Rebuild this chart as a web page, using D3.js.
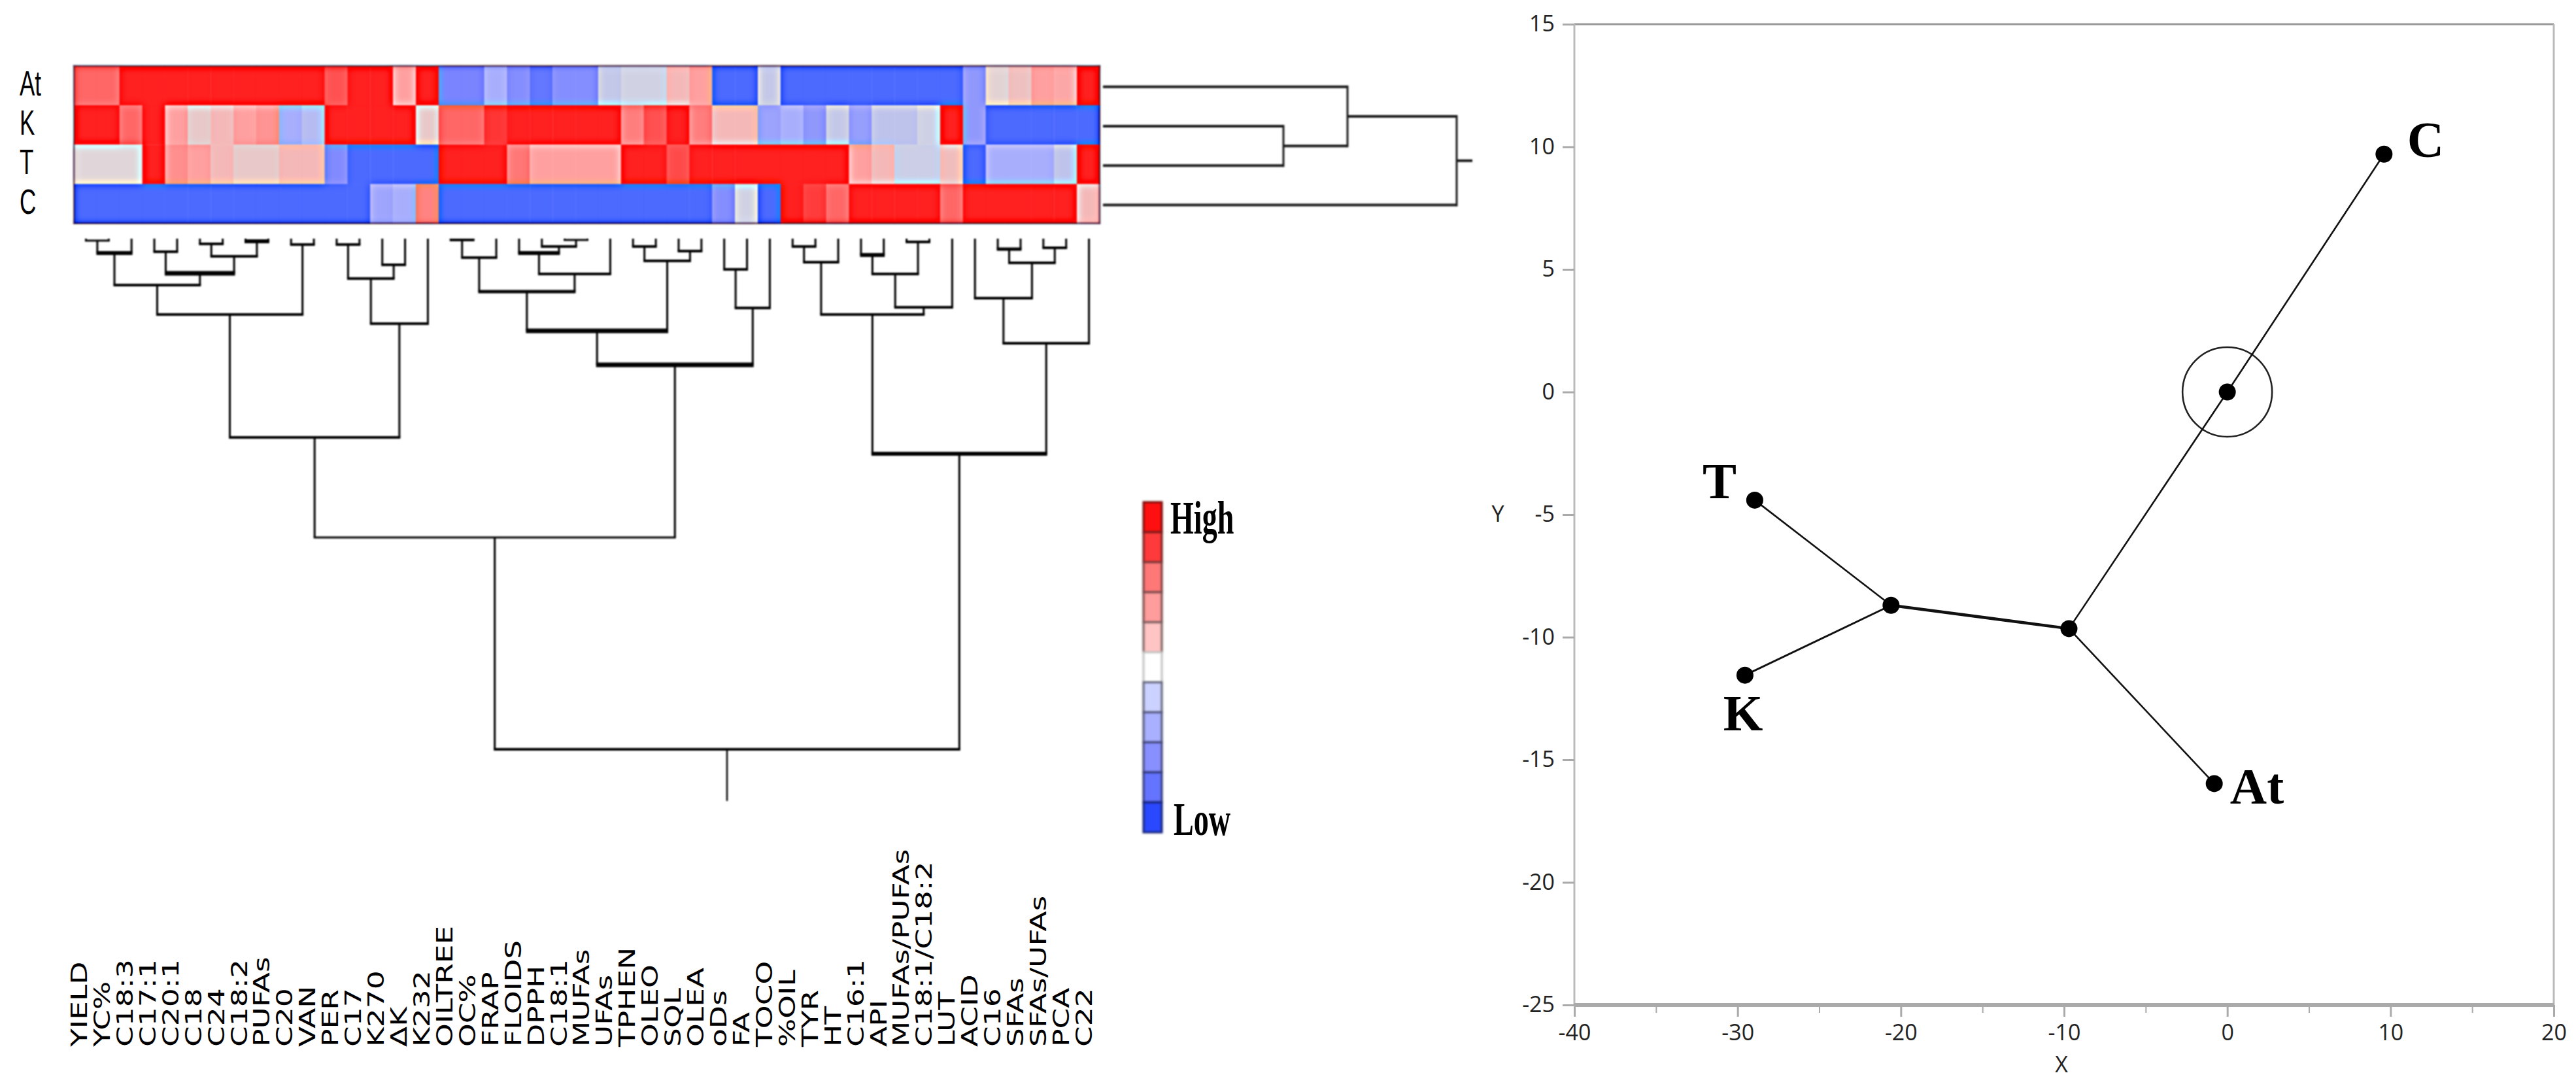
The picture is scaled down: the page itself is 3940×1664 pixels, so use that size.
<!DOCTYPE html>
<html><head><meta charset="utf-8">
<script src="https://cdnjs.cloudflare.com/ajax/libs/d3/7.8.5/d3.min.js"></script>
<style>html,body{margin:0;padding:0;background:#fff}svg{display:block}</style>
</head><body><svg id="c" width="3940" height="1664"></svg>
<script>
const rowNames = ["At","K","T","C"];
const colNames = ["YIELD","YC%","C18:3","C17:1","C20:1","C18","C24","C18:2","PUFAs","C20","VAN","PER","C17","K270","ΔK","K232","OILTREE","OC%","FRAP","FLOIDS","DPPH","C18:1","MUFAs","UFAs","TPHEN","OLEO","SQL","OLEA","oDs","FA","TOCO","%OIL","TYR","HT","C16:1","API","MUFAs/PUFAs","C18:1/C18:2","LUT","ACID","C16","SFAs","SFAs/UFAs","PCA","C22"];
const valuesAt = [4,4,5,5,5,5,5,5,5,5,5,4.3,5,5,3,5,-4,-4,-2,-3.5,-4.5,-3.5,-3.5,-1,-0.5,-0.5,2,3,-5,-5,-1,-5,-5,-5,-5,-5,-5,-5,-5,-3,0.5,1.5,3,2.7,5];
const valuesK  = [5,5,4,5,3,1,2,3,3.2,-2,-1.5,5,5,5,5,1,4,4,4.7,5,5,5,5,5,3.6,4.3,5,3.6,2,2,-2.5,-2,-3,-1,-2.7,-1.2,-1.2,-0.6,5,-3,-5,-5,-5,-5,-5];
const valuesT  = [0.3,0.3,0.3,5,3.3,3,2,1,1,2,2,-3.7,-5,-5,-5,-5,5,5,5,3.7,3,3,3,3,5,5,4.4,5,5,5,5,5,5,5,3,2,-0.7,-0.7,1.7,-5,-2,-2,-2,-1.2,5];
const valuesC  = [-5,-5,-5,-5,-5,-5,-5,-5,-5,-5,-5,-5,-5,-2.4,-2,3.5,-5,-5,-5,-5,-5,-5,-5,-5,-5,-5,-5,-5,-3.5,-0.5,-5,5,4.6,4,5,5,5,5,4,5,5,5,5,5,2];
const heatRows = [valuesAt,valuesK,valuesT,valuesC];
const levelDomain = [-5,-4,-3,-2,-1,0,1,2,3,4,5];
const levelColors = ["#4d6aff","#7a84ff","#9098fc","#a8aefc","#c4c8e8","#dcdce0","#e8c8c8","#f4b8b8","#ffa0a0","#ff6666","#ff2020"];
const legendLevels = [5,4,3,2,1,0,-1,-2,-3,-4,-5];
const legendColors = ["#ff1010","#ff3a3a","#ff7878","#ff9c9c","#ffc4c4","#ffffff","#ccd2ff","#a8b0ff","#8890ff","#6474ff","#2a48ff"];
// column dendrogram: [id, left, right, distance, barWidth]
const colMerges = [
["a",0,1,3,3],["b","a",2,22,6],["c",3,4,20,4],["d",5,6,8,4],["e",7,8,4,6],["f","d","e",27,4],["g","c","f",53,7],["h","b","g",71,4],
["i",9,10,9,4],["j","h","i",116,4],["k",11,12,9,4],["l",13,14,40,4],["m","k","l",61,4],["n","m",15,130,4],["o","j","n",304,4],
["p",16,17,2,4],["q","p",18,29,4],["t",21,22,2,3],["s",20,"t",12,4],["r",19,"s",22,6],["u","r",23,54,4],["v","q","u",81,5],
["w",24,25,12,4],["x",26,27,19,4],["y","w","x",34,4],["z","v","y",141,7],["aa",28,29,47,4],["ab","aa",30,106,4],["ac","z","ab",193,7],["ad","o","ac",457,3],
["ae",31,32,12,4],["af","ae",33,36,4],["ag",34,35,25,6],["ah",36,37,5,4],["ai","ag","ah",54,4],["aj","ai",38,105,4],["ak","af","aj",116,4],
["an",40,41,16,5],["ao",42,43,14,4],["am","an","ao",37,4],["al",39,"am",91,4],["ap","al",44,160,4],["aq","ak","ap",329,6],["root","ad","aq",781,4]];
const colRootStem = 860;
// row dendrogram: [id, left, right, distance, barWidth]
const rowMerges = [["kt",1,2,276,3],["akt",0,"kt",374,3],["rootR","akt",3,541,3]];
const rowRootStem = 565;
// constellation plot
const nodeX = [0,9.6,-9.7,-20.6,-28.95,-29.55,-0.8];
const nodeY = [0,9.7,-9.65,-8.7,-4.41,-11.55,-15.97];
const edgeFrom = [0,0,2,3,3,2];
const edgeTo   = [1,2,3,4,5,6];
const edgeWidth= [2.6,2.6,4.5,2.6,3,2.6];
const plotLabels = ["C","T","K","At"];
const labelX = [3710,2630,2666,3452];
const labelY = [240,762,1117,1229];
const yTicks = [15,10,5,0,-5,-10,-15,-20,-25];
const xMajor = [-40,-30,-20,-10,0,10,20];
const xMinor = [-35,-25,-15,-5,5,15];

const svg = d3.select("#c");
svg.append("rect").attr("width",3940).attr("height",1664).attr("fill","#fff");
const defs = svg.append("defs");
const usm = defs.append("filter").attr("id","usm").attr("filterUnits","userSpaceOnUse")
  .attr("x",60).attr("y",50).attr("width",1680).attr("height",340).attr("color-interpolation-filters","sRGB");
usm.append("feGaussianBlur").attr("in","SourceGraphic").attr("stdDeviation",6).attr("result","b");
usm.append("feComposite").attr("in","SourceGraphic").attr("in2","b").attr("operator","arithmetic")
  .attr("k1",0).attr("k2",1.9).attr("k3",-0.9).attr("k4",0).attr("result","s");
usm.append("feGaussianBlur").attr("in","s").attr("stdDeviation",1.3);
const soft = defs.append("filter").attr("id","soft").attr("filterUnits","userSpaceOnUse")
  .attr("x",0).attr("y",0).attr("width",2300).attr("height",1664).attr("color-interpolation-filters","sRGB");
soft.append("feGaussianBlur").attr("stdDeviation",0.9);
const soft2 = defs.append("filter").attr("id","soft2").attr("filterUnits","userSpaceOnUse")
  .attr("x",1700).attr("y",740).attr("width",120).attr("height",560).attr("color-interpolation-filters","sRGB");
soft2.append("feGaussianBlur").attr("stdDeviation",1.8);

// heatmap
const xBand = d3.scaleBand().domain(d3.range(colNames.length)).range([113,1682]);
const yBand = d3.scaleBand().domain(d3.range(rowNames.length)).range([100.7,341.7]);
const color = d3.scaleLinear().domain(levelDomain).range(levelColors);
const heat = svg.append("g").attr("filter","url(#usm)");
heat.append("rect").attr("x",60).attr("y",50).attr("width",1680).attr("height",340).attr("fill","#fff");
heat.selectAll("g.row").data(heatRows).join("g").attr("class","row").each(function(vals,r){
  d3.select(this).selectAll("rect").data(vals).join("rect")
    .attr("x",(d,i)=>xBand(i)).attr("y",yBand(r))
    .attr("width",xBand.bandwidth()+0.5).attr("height",yBand.bandwidth()+0.5)
    .attr("fill",d=>color(d));
});
heat.append("rect").attr("x",xBand.range()[0]).attr("y",yBand.range()[0])
  .attr("width",xBand.range()[1]-xBand.range()[0]).attr("height",yBand.range()[1]-yBand.range()[0])
  .attr("fill","none").attr("stroke","#402040").attr("stroke-opacity",0.45).attr("stroke-width",3);

// row labels
svg.append("g").selectAll("text").data(rowNames).join("text")
  .attr("transform",(d,i)=>`translate(30,${yBand(i)+yBand.bandwidth()/2+15}) scale(0.66,1)`)
  .attr("font-family","Liberation Sans").attr("font-size",53).attr("fill","#000").text(d=>d);

// column labels
svg.append("g").selectAll("text").data(colNames).join("text")
  .attr("transform",(d,i)=>`translate(${133+34.93*i},1601) rotate(-90) scale(1.38,1)`)
  .attr("font-family","DejaVu Sans").attr("font-size",33).attr("fill","#000").text(d=>d);

// dendrograms
function layout(merges,pos){
  const nodes = new Map();
  const leaf = k => typeof k==="number" ? {c:pos(k),d:0} : nodes.get(k);
  const out = [];
  merges.forEach(([id,l,r,d,w])=>{
    const L=leaf(l),R=leaf(r);
    out.push({L,R,d,w});
    nodes.set(id,{c:(L.c+R.c)/2,d});
  });
  return {out,root:nodes.get(merges[merges.length-1][0])};
}
const colDist = d3.scaleLinear().domain([0,781]).range([365,1146]);
const colTree = layout(colMerges,i=>xBand(i)+xBand.bandwidth()/2+1);
const gd = svg.append("g").attr("filter","url(#soft)").attr("stroke","#000").attr("fill","none");
colTree.out.forEach(m=>{
  const y=colDist(m.d);
  gd.append("path").attr("stroke-width",3).attr("d",`M${m.L.c},${colDist(m.L.d)}V${y}M${m.R.c},${colDist(m.R.d)}V${y}`);
  gd.append("path").attr("stroke-width",m.w).attr("d",`M${m.L.c-1.5},${y}H${m.R.c+1.5}`);
});
gd.append("path").attr("stroke-width",2.5).attr("d",`M${colTree.root.c},${colDist(colTree.root.d)}V${colDist(colRootStem)}`);

const rowDist = d3.scaleLinear().domain([0,541]).range([1687,2228]);
const rowTree = layout(rowMerges,i=>yBand(i)+yBand.bandwidth()/2+2);
const gr = svg.append("g").attr("filter","url(#soft)").attr("stroke","#1a1a1a").attr("fill","none");
rowTree.out.forEach(m=>{
  const x=rowDist(m.d);
  gr.append("path").attr("stroke-width",4).attr("d",`M${rowDist(m.L.d)},${m.L.c}H${x}M${rowDist(m.R.d)},${m.R.c}H${x}`);
  gr.append("path").attr("stroke-width",m.w).attr("d",`M${x},${m.L.c-2}V${m.R.c+2}`);
});
gr.append("path").attr("stroke-width",4).attr("d",`M${rowDist(rowTree.root.d)},${rowTree.root.c}H${rowDist(rowRootStem)}`);

// legend
const legY = d3.scaleBand().domain(legendLevels).range([768,1273]);
const gl = svg.append("g").attr("filter","url(#soft2)");
gl.selectAll("rect").data(legendLevels).join("rect")
  .attr("x",1749).attr("width",28).attr("y",d=>legY(d)).attr("height",legY.bandwidth())
  .attr("fill",(d,i)=>legendColors[i])
  .attr("stroke",(d,i)=>d3.color(legendColors[i]).darker(d===0?0.8:2.2)).attr("stroke-width",3);
svg.append("text").attr("transform","translate(1790,816) scale(0.64,1)").attr("font-family","Liberation Serif")
  .attr("font-weight","bold").attr("font-size",72).text("High");
svg.append("text").attr("transform","translate(1795,1277) scale(0.64,1)").attr("font-family","Liberation Serif")
  .attr("font-weight","bold").attr("font-size",72).text("Low");

// constellation plot
const x = d3.scaleLinear().domain([-40,20]).range([2408,3906]);
const y = d3.scaleLinear().domain([-25,15]).range([1537,37]);
const frame = svg.append("g").attr("fill","none");
frame.append("path").attr("stroke","#999").attr("stroke-width",3).attr("d",`M${x(-40)},${y(15)}H${x(20)}`);
frame.append("path").attr("stroke","#bbb").attr("stroke-width",3).attr("d",`M${x(-40)},${y(15)}V${y(-25)}M${x(20)},${y(15)}V${y(-25)}`);
const axY = svg.append("g").attr("transform",`translate(${x(-40)},0)`)
  .call(d3.axisLeft(y).tickValues(yTicks).tickSize(18).tickPadding(12).tickFormat(d=>String(d)));
const axX = svg.append("g").attr("transform",`translate(0,${y(-25)})`)
  .call(d3.axisBottom(x).tickValues(xMajor).tickSize(18).tickPadding(12).tickFormat(d=>String(d)));
svg.append("g").attr("transform",`translate(0,${y(-25)})`)
  .call(d3.axisBottom(x).tickValues(xMinor).tickSize(12).tickFormat(""))
  .call(g=>g.select(".domain").remove()).selectAll("line").attr("stroke","#aaa").attr("stroke-width",2);
[axX,axY].forEach(a=>{
  a.select(".domain").remove();
  a.selectAll("line").attr("stroke","#aaa").attr("stroke-width",3);
  a.selectAll("text").attr("font-family","Open Sans").attr("font-size",34).attr("fill","#222");
});
frame.append("path").attr("stroke","#aaa").attr("stroke-width",6).attr("d",`M${x(-40)},${y(-25)}H${x(20)}`);
svg.append("text").attr("x",3153).attr("y",1640).attr("text-anchor","middle").attr("font-family","Open Sans").attr("font-size",34).attr("fill","#222").text("X");
svg.append("text").attr("x",2291).attr("y",798).attr("text-anchor","middle").attr("font-family","Open Sans").attr("font-size",34).attr("fill","#222").text("Y");

svg.append("circle").attr("cx",x(0)).attr("cy",y(0)).attr("r",68.5).attr("fill","none").attr("stroke","#222").attr("stroke-width",2.6);
svg.append("g").selectAll("line").data(edgeFrom).join("line")
  .attr("x1",d=>x(nodeX[d])).attr("y1",d=>y(nodeY[d]))
  .attr("x2",(d,i)=>x(nodeX[edgeTo[i]])).attr("y2",(d,i)=>y(nodeY[edgeTo[i]]))
  .attr("stroke","#111").attr("stroke-width",(d,i)=>edgeWidth[i]);
svg.append("g").selectAll("circle").data(nodeX).join("circle")
  .attr("cx",d=>x(d)).attr("cy",(d,i)=>y(nodeY[i])).attr("r",13).attr("fill","#000");
svg.append("g").selectAll("text").data(plotLabels).join("text")
  .attr("x",(d,i)=>labelX[i]).attr("y",(d,i)=>labelY[i]).attr("text-anchor","middle")
  .attr("font-family","Liberation Serif").attr("font-weight","bold").attr("font-size",78).attr("fill","#000").text(d=>d);
</script></body></html>
